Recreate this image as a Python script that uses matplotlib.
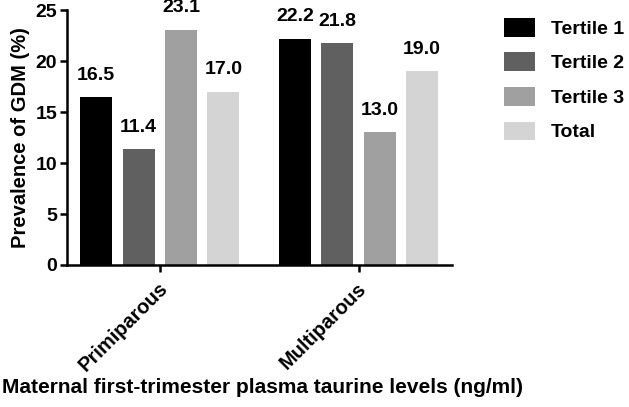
import numpy as np
import matplotlib
matplotlib.use("Agg")
import matplotlib.pyplot as plt
import matplotlib.transforms as mtransforms

groups = ["Primiparous", "Multiparous"]
series = ["Tertile 1", "Tertile 2", "Tertile 3", "Total"]
tertile1 = [16.5, 22.2]
tertile2 = [11.4, 21.8]
tertile3 = [23.1, 13.0]
total = [17.0, 19.0]
colors = ["#000000", "#606060", "#a0a0a0", "#d4d4d4"]

plt.rcParams["font.family"] = ["Liberation Sans", "DejaVu Sans"]
plt.rcParams["font.weight"] = "bold"

fig = plt.figure(figsize=(6.29, 4.07), dpi=100)
ax = fig.add_axes([0.1065, 0.349, 0.612, 0.626])

x = np.arange(len(groups))
width = 0.16
step = 0.213
for i, (name, vals) in enumerate(zip(series, [tertile1, tertile2, tertile3, total])):
    pos = x + (i - 1.5) * step
    ax.bar(pos, vals, width, color=colors[i], label=name)
    for p, v in zip(pos, vals):
        ax.text(p, v + 1.3, f"{v:.1f}", ha="center", va="bottom",
                fontsize=14, fontweight="bold")

ax.set_xlim(-0.467, 1.47)
ax.set_ylim(0, 25)
ax.set_yticks([0, 5, 10, 15, 20, 25])
ax.tick_params(axis="y", labelsize=14, width=1.8, length=5, pad=2)
ax.tick_params(axis="x", width=1.8, length=5)
ax.set_xticks(x)
ax.set_xticklabels(groups, rotation=45, ha="right", rotation_mode="anchor",
                   fontsize=14.5, fontweight="bold")
# nudge the rotated labels like the original
offset = mtransforms.ScaledTranslation(-2 / 100, -2 / 100, fig.dpi_scale_trans)
for lab in ax.get_xticklabels():
    lab.set_transform(lab.get_transform() + offset)
for lab in ax.get_yticklabels():
    lab.set_fontweight("bold")
ax.spines["top"].set_visible(False)
ax.spines["right"].set_visible(False)
ax.spines["left"].set_linewidth(1.8)
ax.spines["bottom"].set_linewidth(1.8)
ax.set_ylabel("Prevalence of GDM (%)", fontsize=14.5, fontweight="bold", labelpad=4)

fig.text(0.003, 0.047, "Maternal first-trimester plasma taurine levels (ng/ml)",
         fontsize=15, fontweight="bold", ha="left", va="center")

ax.legend(loc="upper left", bbox_to_anchor=(1.115, 1.0), frameon=False,
          prop={"size": 14, "weight": "bold"}, handlelength=1.6, handleheight=1.1,
          handletextpad=0.8, labelspacing=0.75, borderaxespad=0)

fig.savefig("out.png", dpi=100)
